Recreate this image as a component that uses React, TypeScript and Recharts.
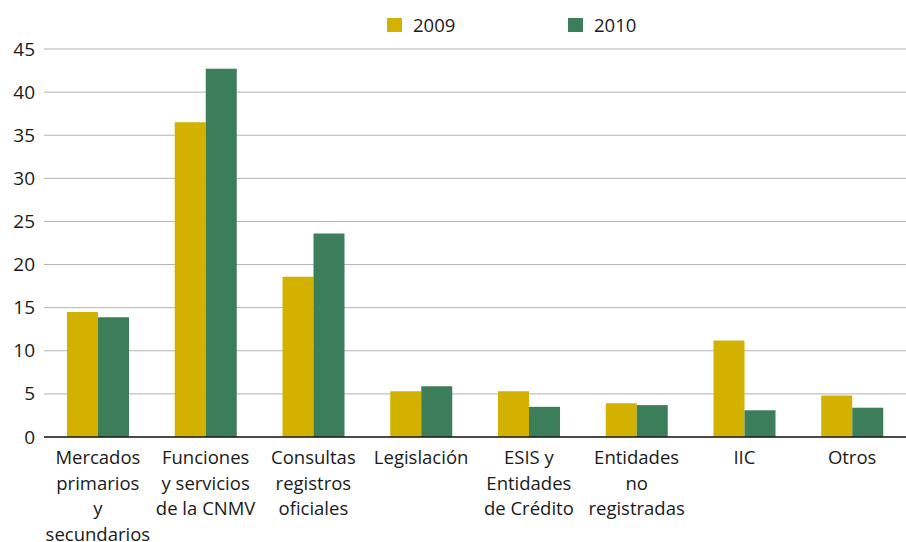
import { BarChart, Bar, XAxis, YAxis, CartesianGrid } from "recharts";

const categories = [
  "Mercados\nprimarios\ny\nsecundarios",
  "Funciones\ny servicios\nde la CNMV",
  "Consultas\nregistros\noficiales",
  "Legislación",
  "ESIS y\nEntidades\nde Crédito",
  "Entidades\nno\nregistradas",
  "IIC",
  "Otros",
];
const values2009 = [14.5, 36.5, 18.6, 5.3, 5.3, 3.9, 11.2, 4.8];
const values2010 = [13.9, 42.7, 23.6, 5.9, 3.5, 3.7, 3.1, 3.4];
const yTicks = [0, 5, 10, 15, 20, 25, 30, 35, 40, 45];

const data = categories.map((name, i) => ({
  name,
  y2009: values2009[i],
  y2010: values2010[i],
}));

const GOLD = "#d2b100";
const GREEN = "#3d7e5a";
const FONT = "'Open Sans', 'Noto Sans', sans-serif";

function XTick({ x, payload }: any) {
  const lines = String(payload.value).split("\n");
  return (
    <text x={x} y={464} textAnchor="middle" fontSize={18.5} fill="#1a1a1a" fontFamily={FONT}>
      {lines.map((l, i) => (
        <tspan key={i} x={x} dy={i === 0 ? 0 : 25.7}>
          {l}
        </tspan>
      ))}
    </text>
  );
}

function YTick({ y, payload }: any) {
  return (
    <text x={35} y={y} dy={6.5} textAnchor="end" fontSize={19} fill="#1a1a1a" fontFamily={FONT}>
      {payload.value}
    </text>
  );
}

const legendItems = [
  { label: "2009", color: GOLD, left: 387 },
  { label: "2010", color: GREEN, left: 568 },
];

export default function App() {
  return (
    <div style={{ position: "absolute", left: 0, top: 0, width: 906, height: 542, background: "#fff" }}>
      <BarChart
        width={906}
        height={542}
        data={data}
        margin={{ top: 49, right: 0, left: 0, bottom: 0 }}
        barGap={0}
        barSize={31}
      >
        <CartesianGrid vertical={false} stroke="#b3b3b3" strokeWidth={1} />
        <XAxis
          dataKey="name"
          height={105}
          interval={0}
          tickLine={false}
          axisLine={{ stroke: "#1a1a1a", strokeWidth: 1.5 }}
          tick={<XTick />}
        />
        <YAxis
          width={44}
          domain={[0, 45]}
          ticks={yTicks}
          axisLine={false}
          tickLine={false}
          tick={<YTick />}
        />
        <Bar dataKey="y2009" name="2009" fill={GOLD} isAnimationActive={false} />
        <Bar dataKey="y2010" name="2010" fill={GREEN} isAnimationActive={false} />
      </BarChart>
      {legendItems.map((it) => (
        <div
          key={it.label}
          style={{
            position: "absolute",
            left: it.left,
            top: 12,
            display: "flex",
            alignItems: "center",
            fontFamily: FONT,
            fontSize: 18.5,
            color: "#1a1a1a",
            lineHeight: "26px",
          }}
        >
          <span style={{ width: 15, height: 14, background: it.color, display: "inline-block", marginRight: 11 }} />
          <span>{it.label}</span>
        </div>
      ))}
    </div>
  );
}
